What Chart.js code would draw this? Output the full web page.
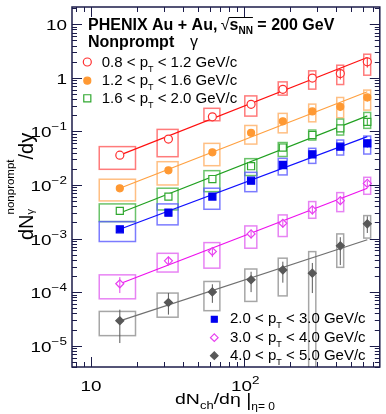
<!DOCTYPE html>
<html lang="en">
<head>
<meta charset="UTF-8">
<title>PHENIX Au+Au nonprompt photons</title>
<style>
	html, body { margin: 0; padding: 0; background: #fff; }
	#chart { display: block; }
</style>
</head>
<body>
<canvas id="chart" width="386" height="414"></canvas>
<script src="https://cdn.jsdelivr.net/npm/chart.js"></script>
<script>
	// dNch/deta per centrality bin and its (x) systematic uncertainty
	const dNch = [15.4, 32, 62, 111, 179, 279, 425, 638];
	const dNchSys = [4.1, 5, 7.4, 10, 12, 15, 22, 33];

	// 0.8 < pT < 1.2
	const y08 = [0.036, 0.072, 0.187, 0.32, 0.61, 0.99, 1.2, 1.99];
	const sysLo08 = [0.0196, 0.0337, 0.158, 0.193, 0.475, 0.615, 0.75, 1.12];
	const sysHi08 = [0.052, 0.109, 0.27, 0.46, 0.84, 1.35, 1.72, 2.76];
	const statLo08 = [null, null, null, null, null, null, 0.93, 1.55];
	const statHi08 = [null, null, null, null, null, null, 1.45, 2.4];
	const fit08 = [0.036, 2.39];

	// 1.2 < pT < 1.6
	const y12 = [0.00867, 0.0188, 0.0406, 0.094, 0.154, 0.236, 0.288, 0.43];
	const sysLo12 = [0.00504, 0.01, 0.0229, 0.058, 0.094, 0.151, 0.18, 0.25];
	const sysHi12 = [0.0128, 0.0272, 0.0598, 0.129, 0.217, 0.323, 0.43, 0.59];
	const statLo12 = [null, null, null, null, null, null, 0.24, 0.36];
	const statHi12 = [null, null, null, null, null, null, 0.34, 0.5];
	const fit12 = [0.0087, 0.55];

	// 1.6 < pT < 2.0
	const y16 = [0.00328, 0.00607, 0.0129, 0.0224, 0.05, 0.0855, 0.114, 0.151];
	const sysLo16 = [0.00207, 0.00342, 0.0075, 0.015, 0.034, 0.069, 0.0855, 0.114];
	const sysHi16 = [0.00443, 0.0087, 0.0185, 0.031, 0.062, 0.106, 0.17, 0.226];
	const statLo16 = [null, null, null, null, null, null, null, 0.13];
	const statHi16 = [null, null, null, null, null, null, null, 0.175];
	const fit16 = [0.003, 0.195];

	// 2.0 < pT < 3.0
	const y20 = [0.00149, 0.00305, 0.00607, 0.012, 0.0236, 0.0373, 0.0518, 0.0598];
	const sysLo20 = [0.00088, 0.0018, 0.00352, 0.0075, 0.0154, 0.0253, 0.0362, 0.0378];
	const sysHi20 = [0.00207, 0.00443, 0.0087, 0.0172, 0.0314, 0.0483, 0.069, 0.0818];
	const statLo20 = [null, null, null, null, null, null, null, 0.05];
	const statHi20 = [null, null, null, null, null, null, null, 0.07];
	const fit20 = [0.00149, 0.08];

	// 3.0 < pT < 4.0
	const y30 = [1.43e-4, 3.84e-4, 5.73e-4, 1.22e-3, 1.93e-3, 3.42e-3, 5.1e-3, 1.07e-2];
	const sysLo30 = [7.5e-5, 2.37e-4, 2.8e-4, 6.6e-4, 1.09e-3, 2.39e-3, 3.18e-3, 6.7e-3];
	const sysHi30 = [2.1e-4, 5.3e-4, 8.4e-4, 1.72e-3, 2.76e-3, 4.9e-3, 7.2e-3, 1.39e-2];
	const statLo30 = [9.6e-5, 3.2e-4, 4.5e-4, 1.0e-3, 1.6e-3, 2.8e-3, 4.2e-3, 9.2e-3];
	const statHi30 = [1.9e-4, 4.6e-4, 6.8e-4, 1.45e-3, 2.3e-3, 4.0e-3, 6.0e-3, 1.2e-2];
	const fit30 = [1.43e-4, 8.7e-3];

	// 4.0 < pT < 5.0
	const y40 = [2.92e-5, 6.4e-5, 1.01e-4, 1.7e-4, 2.6e-4, 2.26e-4, 7.3e-4, 1.88e-3];
	const sysLo40 = [1.54e-5, 3.4e-5, 4.5e-5, 6.7e-5, 8.5e-5, 1e-7, 2.9e-4, 1.02e-3];
	const sysHi40 = [4.36e-5, 9.6e-5, 1.58e-4, 2.7e-4, 4.3e-4, 5.7e-4, 1.22e-3, 2.68e-3];
	const statLo40 = [1.12e-5, 3.8e-5, 6.3e-5, 1.0e-4, 1.5e-4, 9.6e-5, 3.2e-4, 1.27e-3];
	const statHi40 = [4.7e-5, 9.6e-5, 1.4e-4, 2.4e-4, 3.7e-4, 3.5e-4, 1.06e-3, 2.6e-3];
	const fit40 = [2.9e-5, 9.5e-4];

	const binLo = ['0.8', '1.2', '1.6', '2.0', '3.0', '4.0'];
	const binHi = ['1.2', '1.6', '2.0', '3.0', '4.0', '5.0'];

	const xMin = 7.5, xMax = 770, yMin = 4e-6, yMax = 21;

	const series = [
		{ y: y08, lo: sysLo08, hi: sysHi08, sLo: statLo08, sHi: statHi08, fit: fit08, line: '#ff1010', box: 'rgba(255,90,90,0.8)', mk: '#ff3030', style: 'circle', open: true, r: 4 },
		{ y: y12, lo: sysLo12, hi: sysHi12, sLo: statLo12, sHi: statHi12, fit: fit12, line: '#ffa040', box: 'rgba(255,175,100,0.8)', mk: '#ff9933', style: 'circle', open: false, r: 3.5 },
		{ y: y16, lo: sysLo16, hi: sysHi16, sLo: statLo16, sHi: statHi16, fit: fit16, line: '#20a020', box: 'rgba(70,180,70,0.8)', mk: '#30a830', style: 'rect', open: true, r: 5 },
		{ y: y20, lo: sysLo20, hi: sysHi20, sLo: statLo20, sHi: statHi20, fit: fit20, line: '#1010ff', box: 'rgba(90,90,255,0.8)', mk: '#0000f0', style: 'rect', open: false, r: 5 },
		{ y: y30, lo: sysLo30, hi: sysHi30, sLo: statLo30, sHi: statHi30, fit: fit30, line: '#ee10ee', box: 'rgba(225,100,240,0.8)', mk: '#e840f0', style: 'rectRot', open: true, r: 4 },
		{ y: y40, lo: sysLo40, hi: sysHi40, sLo: statLo40, sHi: statHi40, fit: fit40, line: '#707070', box: 'rgba(150,150,150,0.85)', mk: '#585858', style: 'rectRot', open: false, r: 4 }
	];

	const FONT = '"Liberation Sans", Arial, sans-serif';
	const f = (size, bold) => (bold ? 'bold ' : '') + size + 'px ' + FONT;
	const frameColor = '#1c1c4a';

	function richWidth(ctx, parts) {
		let w = 0;
		for (const p of parts) {
			ctx.font = p.f;
			if (p.adv !== false) w += ctx.measureText(p.t).width * (p.sx || 1);
		}
		return w;
	}

	function drawRich(ctx, parts, x, y, align) {
		const w = richWidth(ctx, parts);
		let cx = align === 'right' ? x - w : align === 'center' ? x - w / 2 : x;
		for (const p of parts) {
			ctx.font = p.f;
			const sx = p.sx || 1;
			const pw = ctx.measureText(p.t).width * sx;
			ctx.save();
			ctx.translate(cx, y + (p.dy || 0));
			ctx.scale(sx, 1);
			ctx.fillStyle = '#000';
			ctx.fillText(p.t, 0, 0);
			ctx.restore();
			if (p.adv !== false) cx += pw;
		}
		return cx;
	}

	function drawMarker(ctx, s, x, y) {
		ctx.save();
		ctx.beginPath();
		const r = s.r;
		if (s.style === 'circle') {
			ctx.arc(x, y, r, 0, Math.PI * 2);
		} else if (s.style === 'rect') {
			const h = r * Math.SQRT1_2;
			ctx.rect(x - h, y - h, 2 * h, 2 * h);
		} else {
			ctx.moveTo(x - r, y); ctx.lineTo(x, y - r); ctx.lineTo(x + r, y); ctx.lineTo(x, y + r); ctx.closePath();
		}
		ctx.lineWidth = 1.2;
		ctx.strokeStyle = s.mk;
		ctx.fillStyle = s.open ? '#fff' : s.mk;
		ctx.fill();
		ctx.stroke();
		ctx.restore();
	}

	function ptLabel(ctx, i, x, y) {
		drawRich(ctx, [
			{ t: binLo[i] + ' < p', f: f(15) },
			{ t: 'T', f: f(9), dy: 5 },
			{ t: ' < ' + binHi[i] + ' GeV/c', f: f(15) }
		], x, y, 'left');
	}

	const paperPlugin = {
		id: 'paper',
		beforeDatasetsDraw(chart) {
			const { ctx, chartArea: a, scales: { x, y } } = chart;
			ctx.save();
			ctx.beginPath();
			ctx.rect(a.left, a.top, a.right - a.left, a.bottom - a.top);
			ctx.clip();
			ctx.lineWidth = 1.5;
			series.forEach(s => {
				ctx.strokeStyle = s.box;
				dNch.forEach((xv, i) => {
					const x0 = x.getPixelForValue(xv - dNchSys[i]);
					const x1 = x.getPixelForValue(xv + dNchSys[i]);
					const y0 = y.getPixelForValue(s.hi[i]);
					const y1 = y.getPixelForValue(s.lo[i]);
					ctx.strokeRect(x0, y0, x1 - x0, y1 - y0);
				});
			});
			ctx.restore();
		},
		afterDatasetsDraw(chart) {
			const { ctx, chartArea: a, scales: { x, y } } = chart;
			ctx.save();
			// statistical error bars
			ctx.beginPath();
			ctx.rect(a.left, a.top, a.right - a.left, a.bottom - a.top);
			ctx.clip();
			ctx.lineWidth = 1;
			series.forEach(s => {
				ctx.strokeStyle = s.mk;
				dNch.forEach((xv, i) => {
					if (s.sLo[i] == null) return;
					const px = x.getPixelForValue(xv);
					ctx.beginPath();
					ctx.moveTo(px, y.getPixelForValue(s.sHi[i]));
					ctx.lineTo(px, y.getPixelForValue(s.sLo[i]));
					ctx.stroke();
				});
			});
			ctx.restore();

			// frame and inward ticks
			ctx.save();
			ctx.strokeStyle = frameColor;
			ctx.lineWidth = 1.5;
			ctx.strokeRect(a.left, a.top, a.right - a.left, a.bottom - a.top);
			ctx.lineWidth = 1;
			ctx.beginPath();
			for (let e = -6; e <= 1; e++) {
				for (let m = 1; m <= 9; m++) {
					const v = m * Math.pow(10, e);
					if (v < yMin || v > yMax) continue;
					const py = Math.round(y.getPixelForValue(v)) + 0.5;
					const len = m === 1 ? 10 : 5;
					ctx.moveTo(a.left, py); ctx.lineTo(a.left + len, py);
					ctx.moveTo(a.right, py); ctx.lineTo(a.right - len, py);
				}
			}
			for (let e = 0; e <= 2; e++) {
				for (let m = 1; m <= 9; m++) {
					const v = m * Math.pow(10, e);
					if (v < xMin || v > xMax) continue;
					const px = Math.round(x.getPixelForValue(v)) + 0.5;
					const len = m === 1 ? 10 : 5;
					ctx.moveTo(px, a.bottom); ctx.lineTo(px, a.bottom - len);
					ctx.moveTo(px, a.top); ctx.lineTo(px, a.top + len);
				}
			}
			ctx.stroke();
			ctx.restore();

			// tick labels
			ctx.save();
			const sx = 1.35;
			for (let e = -5; e <= 1; e++) {
				const py = y.getPixelForValue(Math.pow(10, e)) + 6;
				let parts;
				if (e === 1) parts = [{ t: '10', f: f(14), sx }];
				else if (e === 0) parts = [{ t: '1', f: f(14), sx }];
				else parts = [{ t: '10', f: f(14), sx }, { t: '\u2212' + (-e), f: f(10), sx, dy: -7 }];
				drawRich(ctx, parts, 67, py, 'right');
			}
			drawRich(ctx, [{ t: '10', f: f(14), sx }], x.getPixelForValue(10), 390.5, 'center');
			drawRich(ctx, [{ t: '10', f: f(14), sx }, { t: '2', f: f(10), sx, dy: -7 }], x.getPixelForValue(100) + 1, 390.5, 'center');

			// axis titles
			drawRich(ctx, [
				{ t: 'dN', f: f(15), sx: 1.3 },
				{ t: 'ch', f: f(10), sx: 1.3, dy: 4.5 },
				{ t: '/d\u03b7 ', f: f(15), sx: 1.3 },
				{ t: '|', f: f(18), sx: 1.1, dy: 2 },
				{ t: '\u03b7= 0', f: f(10), sx: 1.2, dy: 6 }
			], 175, 404, 'left');

			ctx.save();
			ctx.translate(33, 240);
			ctx.rotate(-Math.PI / 2);
			drawRich(ctx, [
				{ t: 'dN', f: f(20) },
				{ t: '\u03b3', f: f(11), dy: 1, adv: false },
				{ t: 'nonprompt', f: f(11.5), dy: -19 },
				{ t: '/dy', f: f(20) }
			], 0, 0, 'left');
			ctx.restore();

			// header
			let cx = drawRich(ctx, [{ t: 'PHENIX Au + Au, ', f: f(16, true) }], 88, 30, 'left');
			cx = drawRich(ctx, [{ t: '\u221a', f: f(16) }], cx - 1, 30, 'left');
			const ox = cx;
			cx = drawRich(ctx, [{ t: 's', f: f(16, true) }, { t: 'NN', f: f(10, true), dy: 4 }], cx, 30, 'left');
			ctx.beginPath();
			ctx.lineWidth = 1;
			ctx.strokeStyle = '#000';
			ctx.moveTo(ox - 0.5, 17.5); ctx.lineTo(cx, 17.5);
			ctx.stroke();
			drawRich(ctx, [{ t: ' = 200 GeV', f: f(16, true) }], cx, 30, 'left');
			drawRich(ctx, [{ t: 'Nonprompt', f: f(16, true) }], 88, 47, 'left');
			drawRich(ctx, [{ t: '\u03b3', f: f(16) }], 190, 47, 'left');

			// legends
			const topRows = [62, 80.7, 98.3];
			topRows.forEach((ry, i) => {
				drawMarker(ctx, series[i], 87.3, ry);
				ptLabel(ctx, i, 101.7, ry + 4.7);
			});
			const botRows = [319.3, 337.7, 355.7];
			botRows.forEach((ry, k) => {
				const i = k + 3;
				const s = Object.assign({}, series[i], { r: series[i].style === 'rect' ? 4.2 : 3.8 });
				drawMarker(ctx, s, 214.3, ry);
				ptLabel(ctx, i, 230, ry + 4);
			});
			ctx.restore();
		}
	};

	const datasets = [];
	series.forEach((s, i) => {
		datasets.push({
			type: 'scatter',
			order: 1,
			data: dNch.map((xv, k) => ({ x: xv, y: s.y[k] })),
			pointStyle: s.style,
			pointRadius: s.r,
			pointBorderWidth: 1.2,
			borderColor: s.mk,
			backgroundColor: s.open ? '#ffffff' : s.mk,
			showLine: false
		});
		datasets.push({
			type: 'line',
			order: 2,
			data: [{ x: dNch[0], y: s.fit[0] }, { x: dNch[dNch.length - 1], y: s.fit[1] }],
			borderColor: s.line,
			borderWidth: 1.2,
			pointRadius: 0,
			fill: false,
			tension: 0
		});
	});

	new Chart(document.getElementById('chart').getContext('2d'), {
		type: 'scatter',
		data: { datasets },
		options: {
			responsive: false,
			animation: false,
			devicePixelRatio: 1,
			layout: { padding: { top: 7, right: 1, left: 0, bottom: 0 } },
			plugins: { legend: { display: false }, tooltip: { enabled: false } },
			scales: {
				x: {
					type: 'logarithmic', min: xMin, max: xMax, bounds: 'data',
					grid: { display: false }, border: { display: false }, ticks: { display: false },
					afterFit: s => { s.height = 47; }
				},
				y: {
					type: 'logarithmic', min: yMin, max: yMax, bounds: 'data',
					grid: { display: false }, border: { display: false }, ticks: { display: false },
					afterFit: s => { s.width = 72; }
				}
			}
		},
		plugins: [paperPlugin]
	});
</script>
</body>
</html>
